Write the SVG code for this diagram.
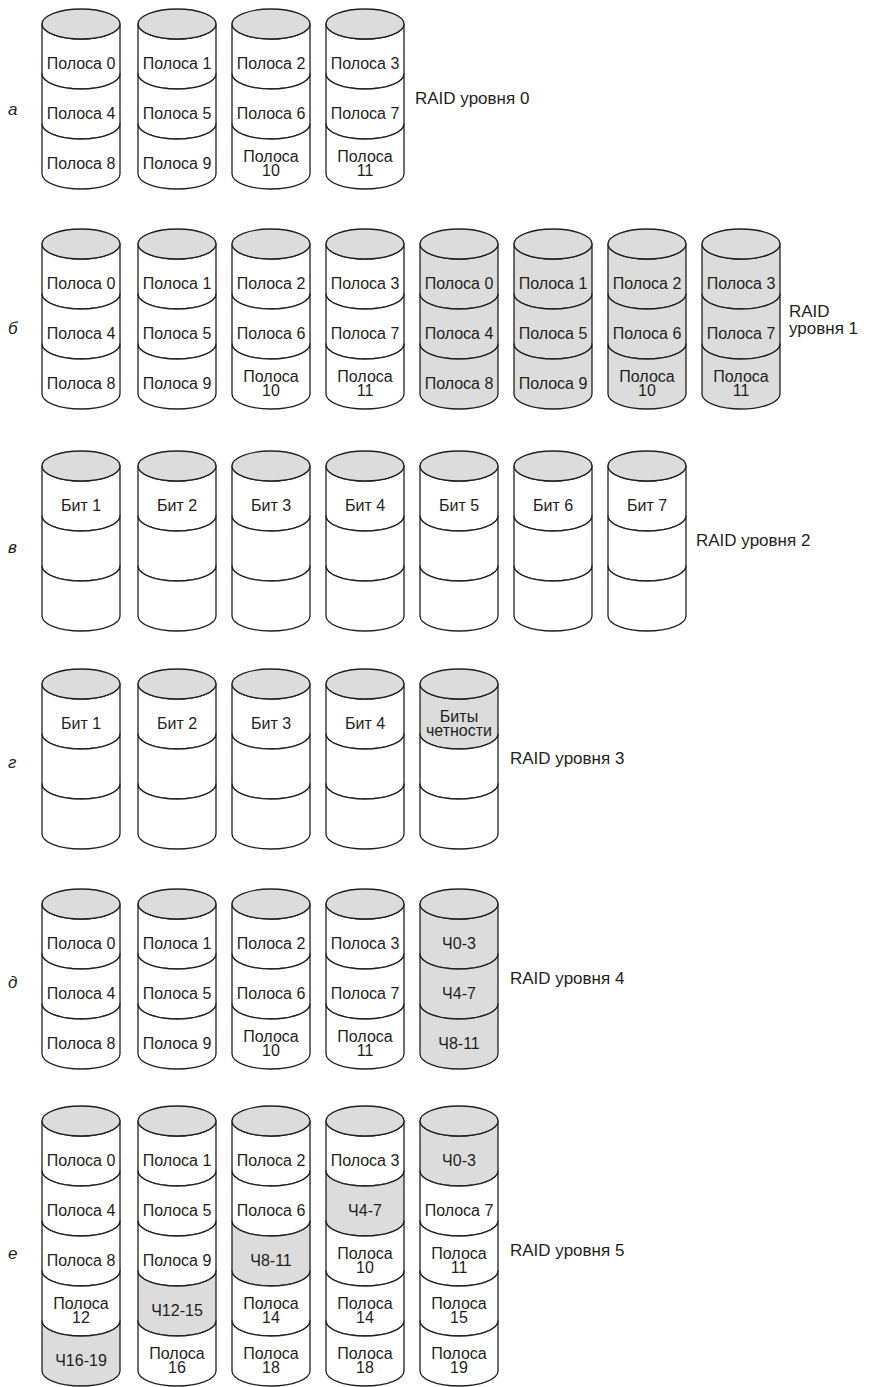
<svg xmlns="http://www.w3.org/2000/svg" width="870" height="1387" viewBox="0 0 870 1387">
<style>
.w{fill:#ffffff}
.g{fill:#dcdcdc}
text{font-family:"Liberation Sans",Arial,sans-serif;fill:#231f20}
.t{font-size:16px;text-anchor:middle}
.lab{font-size:17px}
.row{font-size:17px;font-style:italic}
</style>
<defs>
<path id="seg" d="M-39,0 A39,15 0 0 0 39,0 L39,50 A39,15 0 0 1 -39,50 Z" stroke="#231f20" stroke-width="1.3" stroke-linejoin="round"/>
<ellipse id="top" cx="0" cy="0" rx="39" ry="15" stroke="#231f20" stroke-width="1.3"/>
</defs>
<rect width="870" height="1387" fill="#ffffff"/>

<!-- Row a: RAID 0 -->
<g id="row-a">
<text class="row" x="8" y="115">а</text>
<text class="lab" x="415" y="104">RAID уровня 0</text>
<g id="a-disk1">
<use href="#seg" class="w" x="81" y="24"/><use href="#seg" class="w" x="81" y="74"/><use href="#seg" class="w" x="81" y="124"/><use href="#top" class="g" x="81" y="24"/>
<text class="t" x="81" y="69">Полоса 0</text><text class="t" x="81" y="119">Полоса 4</text><text class="t" x="81" y="169">Полоса 8</text>
</g>
<g id="a-disk2">
<use href="#seg" class="w" x="177" y="24"/><use href="#seg" class="w" x="177" y="74"/><use href="#seg" class="w" x="177" y="124"/><use href="#top" class="g" x="177" y="24"/>
<text class="t" x="177" y="69">Полоса 1</text><text class="t" x="177" y="119">Полоса 5</text><text class="t" x="177" y="169">Полоса 9</text>
</g>
<g id="a-disk3">
<use href="#seg" class="w" x="271" y="24"/><use href="#seg" class="w" x="271" y="74"/><use href="#seg" class="w" x="271" y="124"/><use href="#top" class="g" x="271" y="24"/>
<text class="t" x="271" y="69">Полоса 2</text><text class="t" x="271" y="119">Полоса 6</text><text class="t" x="271" y="162">Полоса<tspan x="271" dy="14">10</tspan></text>
</g>
<g id="a-disk4">
<use href="#seg" class="w" x="365" y="24"/><use href="#seg" class="w" x="365" y="74"/><use href="#seg" class="w" x="365" y="124"/><use href="#top" class="g" x="365" y="24"/>
<text class="t" x="365" y="69">Полоса 3</text><text class="t" x="365" y="119">Полоса 7</text><text class="t" x="365" y="162">Полоса<tspan x="365" dy="14">11</tspan></text>
</g>
</g>

<!-- Row b: RAID 1 -->
<g id="row-b">
<text class="row" x="8" y="334">б</text>
<text class="lab" x="789" y="317">RAID<tspan x="789" dy="17">уровня 1</tspan></text>
<g id="b-disk1">
<use href="#seg" class="w" x="81" y="244"/><use href="#seg" class="w" x="81" y="294"/><use href="#seg" class="w" x="81" y="344"/><use href="#top" class="g" x="81" y="244"/>
<text class="t" x="81" y="289">Полоса 0</text><text class="t" x="81" y="339">Полоса 4</text><text class="t" x="81" y="389">Полоса 8</text>
</g>
<g id="b-disk2">
<use href="#seg" class="w" x="177" y="244"/><use href="#seg" class="w" x="177" y="294"/><use href="#seg" class="w" x="177" y="344"/><use href="#top" class="g" x="177" y="244"/>
<text class="t" x="177" y="289">Полоса 1</text><text class="t" x="177" y="339">Полоса 5</text><text class="t" x="177" y="389">Полоса 9</text>
</g>
<g id="b-disk3">
<use href="#seg" class="w" x="271" y="244"/><use href="#seg" class="w" x="271" y="294"/><use href="#seg" class="w" x="271" y="344"/><use href="#top" class="g" x="271" y="244"/>
<text class="t" x="271" y="289">Полоса 2</text><text class="t" x="271" y="339">Полоса 6</text><text class="t" x="271" y="382">Полоса<tspan x="271" dy="14">10</tspan></text>
</g>
<g id="b-disk4">
<use href="#seg" class="w" x="365" y="244"/><use href="#seg" class="w" x="365" y="294"/><use href="#seg" class="w" x="365" y="344"/><use href="#top" class="g" x="365" y="244"/>
<text class="t" x="365" y="289">Полоса 3</text><text class="t" x="365" y="339">Полоса 7</text><text class="t" x="365" y="382">Полоса<tspan x="365" dy="14">11</tspan></text>
</g>
<g id="b-disk5">
<use href="#seg" class="g" x="459" y="244"/><use href="#seg" class="g" x="459" y="294"/><use href="#seg" class="g" x="459" y="344"/><use href="#top" class="g" x="459" y="244"/>
<text class="t" x="459" y="289">Полоса 0</text><text class="t" x="459" y="339">Полоса 4</text><text class="t" x="459" y="389">Полоса 8</text>
</g>
<g id="b-disk6">
<use href="#seg" class="g" x="553" y="244"/><use href="#seg" class="g" x="553" y="294"/><use href="#seg" class="g" x="553" y="344"/><use href="#top" class="g" x="553" y="244"/>
<text class="t" x="553" y="289">Полоса 1</text><text class="t" x="553" y="339">Полоса 5</text><text class="t" x="553" y="389">Полоса 9</text>
</g>
<g id="b-disk7">
<use href="#seg" class="g" x="647" y="244"/><use href="#seg" class="g" x="647" y="294"/><use href="#seg" class="g" x="647" y="344"/><use href="#top" class="g" x="647" y="244"/>
<text class="t" x="647" y="289">Полоса 2</text><text class="t" x="647" y="339">Полоса 6</text><text class="t" x="647" y="382">Полоса<tspan x="647" dy="14">10</tspan></text>
</g>
<g id="b-disk8">
<use href="#seg" class="g" x="741" y="244"/><use href="#seg" class="g" x="741" y="294"/><use href="#seg" class="g" x="741" y="344"/><use href="#top" class="g" x="741" y="244"/>
<text class="t" x="741" y="289">Полоса 3</text><text class="t" x="741" y="339">Полоса 7</text><text class="t" x="741" y="382">Полоса<tspan x="741" dy="14">11</tspan></text>
</g>
</g>

<!-- Row c: RAID 2 -->
<g id="row-c">
<text class="row" x="8" y="553">в</text>
<text class="lab" x="696" y="546">RAID уровня 2</text>
<g id="c-disk1"><use href="#seg" class="w" x="81" y="466"/><use href="#seg" class="w" x="81" y="516"/><use href="#seg" class="w" x="81" y="566"/><use href="#top" class="g" x="81" y="466"/><text class="t" x="81" y="511">Бит 1</text></g>
<g id="c-disk2"><use href="#seg" class="w" x="177" y="466"/><use href="#seg" class="w" x="177" y="516"/><use href="#seg" class="w" x="177" y="566"/><use href="#top" class="g" x="177" y="466"/><text class="t" x="177" y="511">Бит 2</text></g>
<g id="c-disk3"><use href="#seg" class="w" x="271" y="466"/><use href="#seg" class="w" x="271" y="516"/><use href="#seg" class="w" x="271" y="566"/><use href="#top" class="g" x="271" y="466"/><text class="t" x="271" y="511">Бит 3</text></g>
<g id="c-disk4"><use href="#seg" class="w" x="365" y="466"/><use href="#seg" class="w" x="365" y="516"/><use href="#seg" class="w" x="365" y="566"/><use href="#top" class="g" x="365" y="466"/><text class="t" x="365" y="511">Бит 4</text></g>
<g id="c-disk5"><use href="#seg" class="w" x="459" y="466"/><use href="#seg" class="w" x="459" y="516"/><use href="#seg" class="w" x="459" y="566"/><use href="#top" class="g" x="459" y="466"/><text class="t" x="459" y="511">Бит 5</text></g>
<g id="c-disk6"><use href="#seg" class="w" x="553" y="466"/><use href="#seg" class="w" x="553" y="516"/><use href="#seg" class="w" x="553" y="566"/><use href="#top" class="g" x="553" y="466"/><text class="t" x="553" y="511">Бит 6</text></g>
<g id="c-disk7"><use href="#seg" class="w" x="647" y="466"/><use href="#seg" class="w" x="647" y="516"/><use href="#seg" class="w" x="647" y="566"/><use href="#top" class="g" x="647" y="466"/><text class="t" x="647" y="511">Бит 7</text></g>
</g>

<!-- Row d: RAID 3 -->
<g id="row-d">
<text class="row" x="8" y="768">г</text>
<text class="lab" x="510" y="764">RAID уровня 3</text>
<g id="d-disk1"><use href="#seg" class="w" x="81" y="684"/><use href="#seg" class="w" x="81" y="734"/><use href="#seg" class="w" x="81" y="784"/><use href="#top" class="g" x="81" y="684"/><text class="t" x="81" y="729">Бит 1</text></g>
<g id="d-disk2"><use href="#seg" class="w" x="177" y="684"/><use href="#seg" class="w" x="177" y="734"/><use href="#seg" class="w" x="177" y="784"/><use href="#top" class="g" x="177" y="684"/><text class="t" x="177" y="729">Бит 2</text></g>
<g id="d-disk3"><use href="#seg" class="w" x="271" y="684"/><use href="#seg" class="w" x="271" y="734"/><use href="#seg" class="w" x="271" y="784"/><use href="#top" class="g" x="271" y="684"/><text class="t" x="271" y="729">Бит 3</text></g>
<g id="d-disk4"><use href="#seg" class="w" x="365" y="684"/><use href="#seg" class="w" x="365" y="734"/><use href="#seg" class="w" x="365" y="784"/><use href="#top" class="g" x="365" y="684"/><text class="t" x="365" y="729">Бит 4</text></g>
<g id="d-disk5"><use href="#seg" class="g" x="459" y="684"/><use href="#seg" class="w" x="459" y="734"/><use href="#seg" class="w" x="459" y="784"/><use href="#top" class="g" x="459" y="684"/><text class="t" x="459" y="722">Биты<tspan x="459" dy="14">четности</tspan></text></g>
</g>

<!-- Row e: RAID 4 -->
<g id="row-e">
<text class="row" x="8" y="988">д</text>
<text class="lab" x="510" y="984">RAID уровня 4</text>
<g id="e-disk1">
<use href="#seg" class="w" x="81" y="904"/><use href="#seg" class="w" x="81" y="954"/><use href="#seg" class="w" x="81" y="1004"/><use href="#top" class="g" x="81" y="904"/>
<text class="t" x="81" y="949">Полоса 0</text><text class="t" x="81" y="999">Полоса 4</text><text class="t" x="81" y="1049">Полоса 8</text>
</g>
<g id="e-disk2">
<use href="#seg" class="w" x="177" y="904"/><use href="#seg" class="w" x="177" y="954"/><use href="#seg" class="w" x="177" y="1004"/><use href="#top" class="g" x="177" y="904"/>
<text class="t" x="177" y="949">Полоса 1</text><text class="t" x="177" y="999">Полоса 5</text><text class="t" x="177" y="1049">Полоса 9</text>
</g>
<g id="e-disk3">
<use href="#seg" class="w" x="271" y="904"/><use href="#seg" class="w" x="271" y="954"/><use href="#seg" class="w" x="271" y="1004"/><use href="#top" class="g" x="271" y="904"/>
<text class="t" x="271" y="949">Полоса 2</text><text class="t" x="271" y="999">Полоса 6</text><text class="t" x="271" y="1042">Полоса<tspan x="271" dy="14">10</tspan></text>
</g>
<g id="e-disk4">
<use href="#seg" class="w" x="365" y="904"/><use href="#seg" class="w" x="365" y="954"/><use href="#seg" class="w" x="365" y="1004"/><use href="#top" class="g" x="365" y="904"/>
<text class="t" x="365" y="949">Полоса 3</text><text class="t" x="365" y="999">Полоса 7</text><text class="t" x="365" y="1042">Полоса<tspan x="365" dy="14">11</tspan></text>
</g>
<g id="e-disk5">
<use href="#seg" class="g" x="459" y="904"/><use href="#seg" class="g" x="459" y="954"/><use href="#seg" class="g" x="459" y="1004"/><use href="#top" class="g" x="459" y="904"/>
<text class="t" x="459" y="949">Ч0-3</text><text class="t" x="459" y="999">Ч4-7</text><text class="t" x="459" y="1049">Ч8-11</text>
</g>
</g>

<!-- Row f: RAID 5 -->
<g id="row-f">
<text class="row" x="8" y="1259">е</text>
<text class="lab" x="510" y="1256">RAID уровня 5</text>
<g id="f-disk1">
<use href="#seg" class="w" x="81" y="1121"/><use href="#seg" class="w" x="81" y="1171"/><use href="#seg" class="w" x="81" y="1221"/><use href="#seg" class="w" x="81" y="1271"/><use href="#seg" class="g" x="81" y="1321"/><use href="#top" class="g" x="81" y="1121"/>
<text class="t" x="81" y="1166">Полоса 0</text><text class="t" x="81" y="1216">Полоса 4</text><text class="t" x="81" y="1266">Полоса 8</text><text class="t" x="81" y="1309">Полоса<tspan x="81" dy="14">12</tspan></text><text class="t" x="81" y="1366">Ч16-19</text>
</g>
<g id="f-disk2">
<use href="#seg" class="w" x="177" y="1121"/><use href="#seg" class="w" x="177" y="1171"/><use href="#seg" class="w" x="177" y="1221"/><use href="#seg" class="g" x="177" y="1271"/><use href="#seg" class="w" x="177" y="1321"/><use href="#top" class="g" x="177" y="1121"/>
<text class="t" x="177" y="1166">Полоса 1</text><text class="t" x="177" y="1216">Полоса 5</text><text class="t" x="177" y="1266">Полоса 9</text><text class="t" x="177" y="1316">Ч12-15</text><text class="t" x="177" y="1359">Полоса<tspan x="177" dy="14">16</tspan></text>
</g>
<g id="f-disk3">
<use href="#seg" class="w" x="271" y="1121"/><use href="#seg" class="w" x="271" y="1171"/><use href="#seg" class="g" x="271" y="1221"/><use href="#seg" class="w" x="271" y="1271"/><use href="#seg" class="w" x="271" y="1321"/><use href="#top" class="g" x="271" y="1121"/>
<text class="t" x="271" y="1166">Полоса 2</text><text class="t" x="271" y="1216">Полоса 6</text><text class="t" x="271" y="1266">Ч8-11</text><text class="t" x="271" y="1309">Полоса<tspan x="271" dy="14">14</tspan></text><text class="t" x="271" y="1359">Полоса<tspan x="271" dy="14">18</tspan></text>
</g>
<g id="f-disk4">
<use href="#seg" class="w" x="365" y="1121"/><use href="#seg" class="g" x="365" y="1171"/><use href="#seg" class="w" x="365" y="1221"/><use href="#seg" class="w" x="365" y="1271"/><use href="#seg" class="w" x="365" y="1321"/><use href="#top" class="g" x="365" y="1121"/>
<text class="t" x="365" y="1166">Полоса 3</text><text class="t" x="365" y="1216">Ч4-7</text><text class="t" x="365" y="1259">Полоса<tspan x="365" dy="14">10</tspan></text><text class="t" x="365" y="1309">Полоса<tspan x="365" dy="14">14</tspan></text><text class="t" x="365" y="1359">Полоса<tspan x="365" dy="14">18</tspan></text>
</g>
<g id="f-disk5">
<use href="#seg" class="g" x="459" y="1121"/><use href="#seg" class="w" x="459" y="1171"/><use href="#seg" class="w" x="459" y="1221"/><use href="#seg" class="w" x="459" y="1271"/><use href="#seg" class="w" x="459" y="1321"/><use href="#top" class="g" x="459" y="1121"/>
<text class="t" x="459" y="1166">Ч0-3</text><text class="t" x="459" y="1216">Полоса 7</text><text class="t" x="459" y="1259">Полоса<tspan x="459" dy="14">11</tspan></text><text class="t" x="459" y="1309">Полоса<tspan x="459" dy="14">15</tspan></text><text class="t" x="459" y="1359">Полоса<tspan x="459" dy="14">19</tspan></text>
</g>
</g>

<g id="connectors"></g>
</svg>
